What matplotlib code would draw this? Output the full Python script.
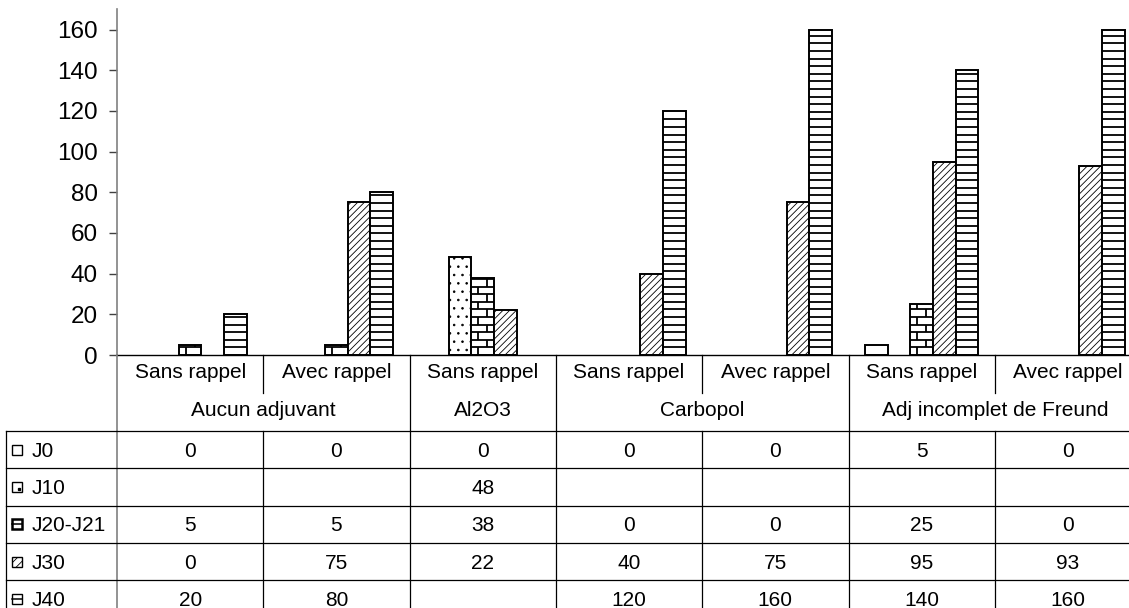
import numpy as np
import matplotlib.pyplot as plt
from matplotlib.patches import Rectangle
from matplotlib.collections import LineCollection
from matplotlib.lines import Line2D
from matplotlib.transforms import blended_transform_factory

plt.rcParams['font.family'] = ['Liberation Sans', 'DejaVu Sans']
plt.rcParams['hatch.linewidth'] = 0.6

# --- data -------------------------------------------------------------
groups = ['Aucun adjuvant', 'Al2O3', 'Carbopol', 'Adj incomplet de Freund']
group_spans = [2, 1, 2, 2]
rappel = ['Sans rappel', 'Avec rappel', 'Sans rappel', 'Sans rappel',
          'Avec rappel', 'Sans rappel', 'Avec rappel']
series = ['J0', 'J10', 'J20-J21', 'J30', 'J40']

j0 = [0, 0, 0, 0, 0, 5, 0]
j10 = [None, None, 48, None, None, None, None]
j20 = [5, 5, 38, 0, 0, 25, 0]
j30 = [0, 75, 22, 40, 75, 95, 93]
j40 = [20, 80, None, 120, 160, 140, 160]
values = [j0, j10, j20, j30, j40]

yticks = list(range(0, 161, 20))

# --- layout (pixels) --------------------------------------------------
W, H = 1129, 608
AX_LEFT, AX_ZERO, AX_TOP = 117, 355, 9.3
COL_W = 146.3
ROW1_Y, ROW2_Y = 373, 411
TABLE_TOP = 431
ROW_H = 37.3
LEG_LEFT = 6

fig = plt.figure(figsize=(W / 100, H / 100), dpi=100)
ax = fig.add_axes([AX_LEFT / W, (H - AX_ZERO) / H,
                   (1128 - AX_LEFT) / W, (AX_ZERO - AX_TOP) / H])
ax.set_xlim(0, (1128 - AX_LEFT) / COL_W)
ax.set_ylim(0, 170)

px_per_unit = (AX_ZERO - AX_TOP) / 170
stripe = 7.6 / px_per_unit

bar_w = 0.155
off0 = (1 - 5 * bar_w) / 2
hatches = [None, '..', None, '/////', None]


def stripes(rect, bricks=False):
    x0, w, h = rect.get_x(), rect.get_width(), rect.get_height()
    segs = []
    k = 1
    while k * stripe < h - 0.5:
        segs.append([(x0, k * stripe), (x0 + w, k * stripe)])
        k += 1
    if bricks:
        j = 0
        while j * stripe < h:
            xv = x0 + w * (0.3 if j % 2 == 0 else 0.7)
            segs.append([(xv, j * stripe), (xv, min((j + 1) * stripe, h))])
            j += 1
    ax.add_collection(LineCollection(segs, colors='black', linewidths=1.3, zorder=3))


for i, vals in enumerate(values):
    xs = np.arange(len(vals)) + off0 + bar_w * (i + 0.5)
    hs = np.array([np.nan if v is None else v for v in vals], dtype=float)
    # zero-height bars sit on the axis and show nothing
    keep = np.nan_to_num(hs) > 0
    bars = ax.bar(xs[keep], hs[keep], width=bar_w, color='white',
                  edgecolor='black', linewidth=1.4, hatch=hatches[i], zorder=2)
    if i == 2:
        for r in bars:
            stripes(r, bricks=True)
    if i == 4:
        for r in bars:
            stripes(r)

for s in ['top', 'right']:
    ax.spines[s].set_visible(False)
ax.spines['left'].set_color('#808080')
ax.spines['left'].set_linewidth(1.2)
ax.spines['bottom'].set_color('black')
ax.spines['bottom'].set_linewidth(1.0)
ax.spines['bottom'].set_zorder(4)
ax.set_xticks([])
ax.set_yticks(yticks)
ax.tick_params(axis='y', length=6, width=1, color='#404040', labelsize=17.5, pad=8)


# --- data table under the chart ---------------------------------------
def fy(py):
    return 1 - py / H


tr = blended_transform_factory(ax.transData, fig.transFigure)


def fline(xs, ys, trans, color='black', lw=0.9):
    fig.add_artist(Line2D(xs, ys, transform=trans, color=color, lw=lw))


ncol = len(rappel)
fline([AX_LEFT / W, AX_LEFT / W], [0, fy(AX_ZERO)], fig.transFigure, color='#808080', lw=1.2)
fline([LEG_LEFT / W, LEG_LEFT / W], [0, fy(TABLE_TOP)], fig.transFigure)
for k in range(5):
    y = fy(TABLE_TOP + k * ROW_H)
    fline([LEG_LEFT / W, 1], [y, y], fig.transFigure)

edges = np.cumsum(group_spans)
for c in range(1, ncol + 1):
    if c in edges:
        fline([c, c], [0, fy(AX_ZERO)], tr)
    else:
        fline([c, c], [fy(AX_ZERO), fy(393)], tr)
        fline([c, c], [0, fy(TABLE_TOP)], tr)

for c, lab in enumerate(rappel):
    fig.text(c + 0.5, fy(ROW1_Y), lab, transform=tr, ha='center', va='center', fontsize=15)

start = 0
for g, span in zip(groups, group_spans):
    fig.text(start + span / 2, fy(ROW2_Y), g, transform=tr, ha='center', va='center', fontsize=15)
    start += span

for i, (name, vals) in enumerate(zip(series, values)):
    cy = TABLE_TOP + i * ROW_H + ROW_H / 2 + 1.5
    for c, v in enumerate(vals):
        if v is not None:
            fig.text(c + 0.5, fy(cy), str(v), transform=tr, ha='center', va='center', fontsize=15)
    fig.text(32 / W, fy(cy), name, ha='left', va='center', fontsize=15)

    # legend key
    kx, ks = 12, 10
    ky = cy - 1.5
    key = Rectangle((kx / W, fy(ky + ks / 2)), ks / W, ks / H, transform=fig.transFigure,
                    facecolor='white', edgecolor='black', lw=1.8 if i == 2 else 1.0,
                    hatch='////' if i == 3 else None)
    fig.add_artist(key)
    if i == 1:
        fig.add_artist(Line2D([(kx + 6.5) / W], [fy(ky + 2)], transform=fig.transFigure,
                              marker='s', markersize=1.4, color='black', lw=0))
    if i in (2, 4):
        fline([kx / W, (kx + ks) / W], [fy(ky), fy(ky)], fig.transFigure, lw=1.1)

fig.savefig('out.png', dpi=100)
